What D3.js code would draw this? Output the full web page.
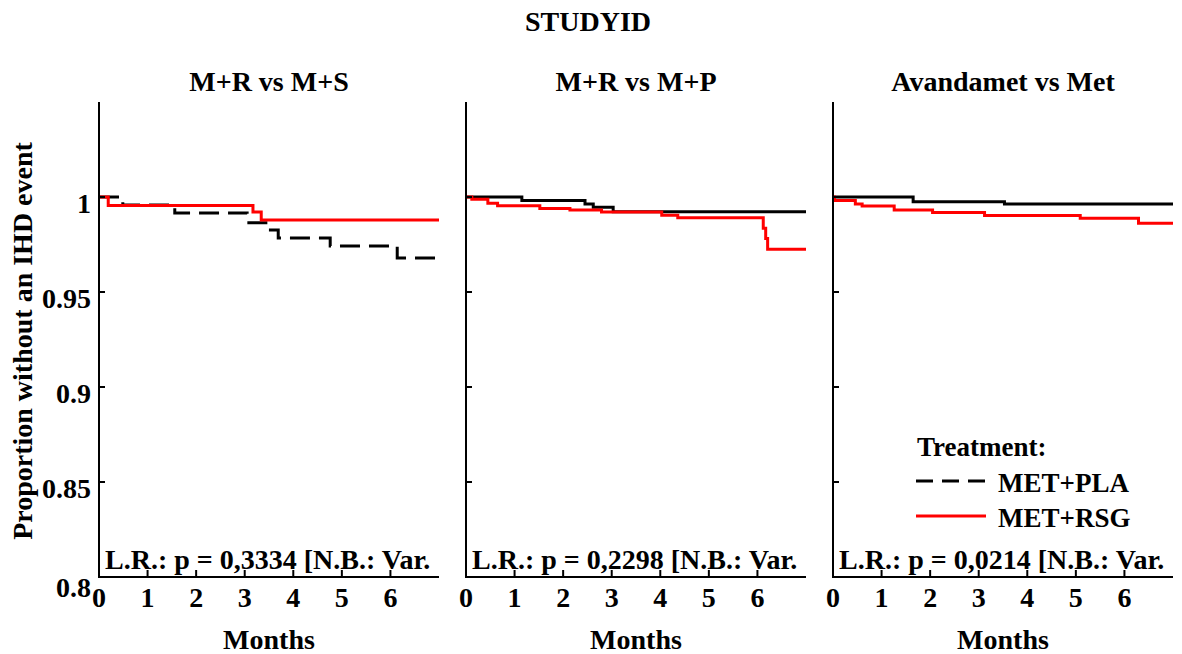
<!DOCTYPE html>
<html>
<head>
<meta charset="utf-8">
<script src="https://cdn.jsdelivr.net/npm/d3@7"></script>
<style>
  body { margin: 0; background: #fff; }
</style>
</head>
<body>
<svg id="chart" width="1182" height="654"></svg>
<script>
const mainTitle = 'STUDYID'
const panelTitles = ['M+R vs M+S', 'M+R vs M+P', 'Avandamet vs Met']
const pValues = ['0,3334', '0,2298', '0,0214']
const seriesNames = ['MET+PLA', 'MET+RSG']
const xTicks = [0, 1, 2, 3, 4, 5, 6]
const yTicks = [0.8, 0.85, 0.9, 0.95, 1]

// step points [months, proportion] for MET+PLA
const plaCurves = [
  [[0, 1], [0.49, 0.9958], [1.56, 0.9916], [3.05, 0.9865], [3.48, 0.9826], [3.69, 0.9784], [4.76, 0.9742], [6.14, 0.9679], [7, 0.9679]],
  [[0, 1], [1.15, 0.9981], [2.45, 0.9963], [2.62, 0.9946], [3.03, 0.9923], [7, 0.9923]],
  [[0, 1], [1.65, 0.9975], [3.53, 0.9963], [7, 0.9963]]
]
// step points [months, proportion] for MET+RSG
const rsgCurves = [
  [[0, 1], [0.19, 0.9955], [3.17, 0.9921], [3.34, 0.9879], [7, 0.9879]],
  [[0, 1], [0.12, 0.9988], [0.45, 0.9967], [0.65, 0.9954], [1.52, 0.994], [2.14, 0.9932], [2.79, 0.9921], [4.03, 0.9904], [4.36, 0.9891], [6.12, 0.9835], [6.17, 0.9782], [6.21, 0.9725], [7, 0.9725]],
  [[0, 1], [0.03, 0.9981], [0.46, 0.9963], [0.6, 0.9953], [1.26, 0.9932], [2.05, 0.9919], [3.12, 0.9902], [5.09, 0.9888], [6.29, 0.9862], [7, 0.9862]]
]

const fs = 28
const svg = d3.select('#chart')
  .attr('font-family', '"Liberation Serif", "Times New Roman", Times, serif')
  .attr('font-weight', 'bold')
const plotTop = 102
const plotBottom = 577
const plotWidth = 340
const panelStep = 367
const firstLeft = 99

const x = d3.scaleLinear().domain([0, 7]).range([0, plotWidth])
const y = d3.scaleLinear().domain([0.8, 1.05]).range([plotBottom, plotTop])

const line = d3.line()
  .x(d => x(d[0]))
  .y(d => y(d[1]))
  .curve(d3.curveStepAfter)

svg.append('text')
  .attr('x', 588)
  .attr('y', 31)
  .attr('text-anchor', 'middle')
  .attr('font-size', fs)
  .text(mainTitle)

svg.append('text')
  .attr('transform', 'translate(32,341) rotate(-90)')
  .attr('text-anchor', 'middle')
  .attr('font-size', fs)
  .text('Proportion without an IHD event')

panelTitles.forEach((title, i) => {
  const left = firstLeft + i * panelStep
  const g = svg.append('g').attr('transform', `translate(${left},0)`)

  g.append('clipPath').attr('id', `clip${i}`)
    .append('rect')
    .attr('x', 0).attr('y', plotTop)
    .attr('width', plotWidth).attr('height', plotBottom - plotTop)

  g.append('text')
    .attr('x', plotWidth / 2)
    .attr('y', 91)
    .attr('text-anchor', 'middle')
    .attr('font-size', fs)
    .text(title)

  // survival curves
  g.append('path')
    .datum(plaCurves[i])
    .attr('fill', 'none')
    .attr('stroke', '#000')
    .attr('stroke-width', 3)
    .attr('stroke-dasharray', i === 0 ? '20,9' : null)
    .attr('d', line)

  g.append('path')
    .datum(rsgCurves[i])
    .attr('fill', 'none')
    .attr('stroke', '#ff0000')
    .attr('stroke-width', 3)
    .attr('d', line)

  // axes
  g.append('line')
    .attr('x1', 0).attr('x2', 0)
    .attr('y1', plotTop).attr('y2', plotBottom + 1)
    .attr('stroke', '#000').attr('stroke-width', 2)
  g.append('line')
    .attr('x1', -1).attr('x2', plotWidth)
    .attr('y1', plotBottom).attr('y2', plotBottom)
    .attr('stroke', '#000').attr('stroke-width', 2)

  yTicks.forEach((t, k) => {
    g.append('line')
      .attr('x1', 0).attr('x2', 6)
      .attr('y1', y(t)).attr('y2', y(t))
      .attr('stroke', '#000').attr('stroke-width', 2)
    if (i === 0) {
      g.append('text')
        .attr('x', -8)
        .attr('y', y(t) + (k === 0 ? 20 : 16))
        .attr('text-anchor', 'end')
        .attr('font-size', fs)
        .text(t)
    }
  })

  xTicks.forEach(t => {
    g.append('line')
      .attr('x1', x(t)).attr('x2', x(t))
      .attr('y1', plotBottom).attr('y2', plotBottom - 7)
      .attr('stroke', '#000').attr('stroke-width', 2)
    g.append('text')
      .attr('x', x(t))
      .attr('y', 607)
      .attr('text-anchor', 'middle')
      .attr('font-size', fs)
      .text(t)
  })

  g.append('text')
    .attr('x', plotWidth / 2)
    .attr('y', 649)
    .attr('text-anchor', 'middle')
    .attr('font-size', fs)
    .text('Months')

  g.append('text')
    .attr('clip-path', `url(#clip${i})`)
    .attr('x', 6)
    .attr('y', 569)
    .attr('font-size', fs)
    .text(`L.R.: p = ${pValues[i]} [N.B.: Var.`)
})

// legend
const legend = svg.append('g').attr('transform', 'translate(916,0)')
legend.append('text')
  .attr('x', 1).attr('y', 456)
  .attr('font-size', 27)
  .text('Treatment:')

const legendY = [481, 516]
seriesNames.forEach((name, i) => {
  legend.append('line')
    .attr('x1', 0).attr('x2', 70)
    .attr('y1', legendY[i]).attr('y2', legendY[i])
    .attr('stroke', i === 0 ? '#000' : '#ff0000')
    .attr('stroke-width', 3)
    .attr('stroke-dasharray', i === 0 ? '17,9' : null)
  legend.append('text')
    .attr('x', 82).attr('y', legendY[i] + 11)
    .attr('font-size', 27)
    .text(name)
})
</script>
</body>
</html>
